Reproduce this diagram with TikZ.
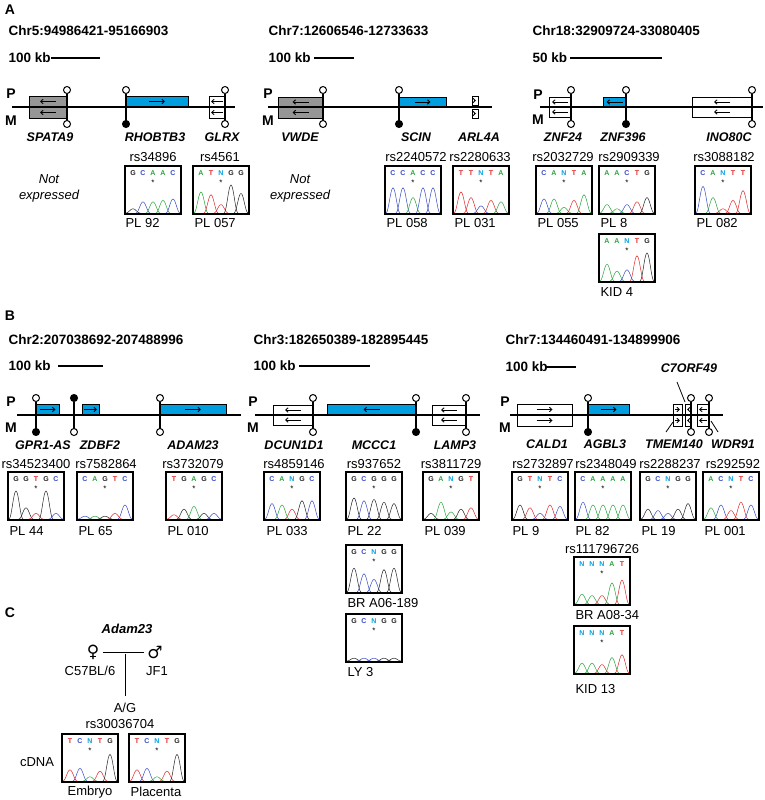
\documentclass[tikz,border=0pt]{standalone}
\usepackage{fontspec}
\setmainfont{Liberation Sans}
\newfontfamily\symfont{DejaVu Sans}
\usetikzlibrary{arrows.meta}

\definecolor{geneblue}{RGB}{0,158,222}
\definecolor{genegrey}{RGB}{150,150,150}
\definecolor{cA}{RGB}{40,165,60}
\definecolor{cC}{RGB}{55,75,200}
\definecolor{cG}{RGB}{35,35,35}
\definecolor{cT}{RGB}{225,40,40}
\definecolor{cN}{RGB}{0,160,225}

\tikzset{
  >={Straight Barb[length=2.5pt,width=4.5pt]},
  panel/.style={font=\fontsize{14}{16}\selectfont\bfseries},
  title/.style={anchor=west,font=\fontsize{13.5}{16}\selectfont\bfseries},
  gname/.style={font=\fontsize{12.5}{14}\selectfont\bfseries\itshape},
  lbl/.style={font=\fontsize{13}{15}\selectfont},
  chrline/.style={line width=2.2pt},
  gbox/.style={draw,line width=0.9pt},
  genearrow/.style={line width=0.9pt},
  stem/.style={line width=1.3pt},
  trace/.style={line width=0.5pt}
}

% half gene box: x1, x2, ytop, ybottom, fill, direction
\newcommand\halfbox[6]{%
  \draw[gbox,fill=#5] (#1,#3) rectangle (#2,#4);
  \pgfmathsetmacro\ah{min(8,(#2-#1)/2-2)}
  \draw[genearrow,#6] ({(#1+#2)/2-\ah},{(#3+#4)/2}) -- ({(#1+#2)/2+\ah},{(#3+#4)/2});
}
% lollipops: x, line y, fill
\newcommand\lolup[3]{\draw[stem] (#1,#2) -- (#1,#2-13.5); \draw[line width=1pt,fill=#3] (#1,#2-17) circle (3.5);}
\newcommand\loldown[3]{\draw[stem] (#1,#2) -- (#1,#2+13.5); \draw[line width=1pt,fill=#3] (#1,#2+17) circle (3.5);}
% chromatogram: x, y, list letter/height/peak colour
\newcommand\chrom[3]{%
  \begin{scope}[shift={(#1,#2)}]
    \foreach \l/\h/\c [count=\i] in {#3}{
      \node[text=c\l,font=\fontsize{7}{7}\selectfont\bfseries] at (\i*10-2,7) {\l};
      \draw[trace,\c] plot[domain=-7:7,samples=15,smooth] ({\i*10-2+\x},{47-\h*14*(1+cos(\x*180/7))});
    }
    \node[font=\fontsize{8}{8}\selectfont] at (28,17) {*};
    \draw[line width=1.2pt] (0,0) rectangle (56,48);
  \end{scope}}

\begin{document}
\begin{tikzpicture}[x=1pt,y=-1pt]
  \useasboundingbox[fill=white] (0,0) rectangle (765,800);

  %% ---------- A ----------
  \node[panel] at (10,10) {A};

  % Chr5
  \node[title] at (5,31) {Chr5:94986421-95166903};
  \node[title] at (5,58) {100 kb};
  \draw[line width=1.5pt] (51,58) -- (100,58);
  \node[panel] at (11,94) {P};
  \node[panel] at (11,121) {M};
  \halfbox{29}{67}{96}{107}{genegrey}{<-}
  \halfbox{29}{67}{107}{118}{genegrey}{<-}
  \halfbox{126}{188}{96}{107}{geneblue}{->}
  \halfbox{209}{225}{96}{107}{white}{<-}
  \halfbox{209}{225}{107}{118}{white}{<-}
  \draw[chrline] (12,107) -- (235,107);
  \lolup{67}{107}{white} \loldown{67}{107}{white}
  \lolup{126}{107}{white} \loldown{126}{107}{black}
  \lolup{225}{107}{white} \loldown{225}{107}{white}
  \node[gname] at (50,137) {SPATA9};
  \node[gname] at (155,137) {RHOBTB3};
  \node[gname] at (222,137) {GLRX};
  \node[lbl,align=center,font=\fontsize{13}{16}\selectfont\itshape] at (49,188) {Not\\expressed};
  \node[lbl] at (153,157) {rs34896};
  \chrom{125}{166}{G/.15/cG,C/.4/cC,A/.4/cA,A/.45/cA,C/.5/cC}
  \node[lbl,anchor=west] at (122,223) {PL 92};
  \node[lbl] at (220,157) {rs4561};
  \chrom{193}{166}{A/.75/cA,T/.65/cT,N/.3/cT,G/1/cG,G/.7/cG}
  \node[lbl,anchor=west] at (191,223) {PL 057};

  % Chr7 (A)
  \node[title] at (265,31) {Chr7:12606546-12733633};
  \node[title] at (265,58) {100 kb};
  \draw[line width=1.5pt] (314,58) -- (354,58);
  \node[panel] at (268,94) {P};
  \node[panel] at (268,121) {M};
  \halfbox{278}{323}{97}{107}{genegrey}{<-}
  \halfbox{278}{323}{107}{118}{genegrey}{<-}
  \halfbox{399}{446}{97}{107}{geneblue}{->}
  \halfbox{472}{478}{96}{105}{white}{->}
  \halfbox{472}{478}{109}{118}{white}{->}
  \draw[chrline] (268,107) -- (492,107);
  \lolup{323}{107}{white} \loldown{323}{107}{white}
  \lolup{399}{107}{white} \loldown{399}{107}{black}
  \node[gname] at (300,137) {VWDE};
  \node[gname] at (416,137) {SCIN};
  \node[gname] at (479,137) {ARL4A};
  \node[lbl,align=center,font=\fontsize{13}{16}\selectfont\itshape] at (300,188) {Not\\expressed};
  \node[lbl] at (416,157) {rs2240572};
  \chrom{385}{166}{C/.9/cC,C/.9/cC,A/.55/cA,C/.9/cC,C/.9/cC}
  \node[lbl,anchor=west] at (383,223) {PL 058};
  \node[lbl] at (480,157) {rs2280633};
  \chrom{453}{166}{T/.75/cT,T/.55/cT,N/.25/cC,T/.45/cT,A/.4/cA}
  \node[lbl,anchor=west] at (451,223) {PL 031};

  % Chr18
  \node[title] at (529,31) {Chr18:32909724-33080405};
  \node[title] at (529,58) {50 kb};
  \draw[line width=1.5pt] (570,58) -- (662,58);
  \node[panel] at (538,95) {P};
  \node[panel] at (538,120) {M};
  \halfbox{549}{571}{97}{107}{white}{<-}
  \halfbox{549}{571}{107}{117}{white}{<-}
  \halfbox{603}{626}{97}{107}{geneblue}{<-}
  \halfbox{692}{752}{97}{107}{white}{<-}
  \halfbox{692}{752}{107}{117}{white}{<-}
  \draw[chrline] (540,107) -- (763,107);
  \lolup{571}{107}{white} \loldown{571}{107}{white}
  \lolup{626}{107}{white} \loldown{626}{107}{black}
  \lolup{752}{107}{white} \loldown{752}{107}{white}
  \node[gname] at (563,137) {ZNF24};
  \node[gname] at (623,137) {ZNF396};
  \node[gname] at (729,137) {INO80C};
  \node[lbl] at (563,157) {rs2032729};
  \chrom{536}{166}{C/.5/cC,A/.5/cA,N/.2/cA,T/.45/cT,A/.65/cA}
  \node[lbl,anchor=west] at (534,223) {PL 055};
  \node[lbl] at (629,157) {rs2909339};
  \chrom{599}{166}{A/.3/cA,A/.15/cA,C/.3/cC,T/.4/cT,G/.55/cG}
  \node[lbl,anchor=west] at (597,223) {PL 8};
  \chrom{599}{234}{A/.6/cA,A/.35/cA,N/.4/cC,T/.9/cT,G/1/cG}
  \node[lbl,anchor=west] at (597,292) {KID 4};
  \node[lbl] at (724,157) {rs3088182};
  \chrom{695}{166}{C/.95/cC,A/.55/cA,N/.15/cT,T/.45/cT,T/.8/cT}
  \node[lbl,anchor=west] at (693,223) {PL 082};

  %% ---------- B ----------
  \node[panel] at (10,316) {B};

  % Chr2
  \node[title] at (5,340) {Chr2:207038692-207488996};
  \node[title] at (5,366) {100 kb};
  \draw[line width=1.5pt] (58,366) -- (103,366);
  \node[panel] at (11,402) {P};
  \node[panel] at (11,428) {M};
  \halfbox{36}{59}{404}{415}{geneblue}{->}
  \halfbox{82}{99}{404}{415}{geneblue}{->}
  \halfbox{160}{226}{404}{415}{geneblue}{->}
  \draw[chrline] (17,415) -- (241,415);
  \lolup{36}{415}{white} \loldown{36}{415}{black}
  \lolup{74}{415}{black} \loldown{74}{415}{white}
  \lolup{160}{415}{white} \loldown{160}{415}{white}
  \node[gname] at (43,445) {GPR1-AS};
  \node[gname] at (100,445) {ZDBF2};
  \node[gname] at (193,445) {ADAM23};
  \node[lbl] at (36,464) {rs34523400};
  \chrom{8}{472}{G/1/cG,G/.4/cG,T/.2/cT,G/1/cG,C/.2/cC}
  \node[lbl,anchor=west] at (6,531) {PL 44};
  \node[lbl] at (106,464) {rs7582864};
  \chrom{77}{472}{C/.1/cC,A/.1/cA,G/.1/cG,T/.2/cT,C/.5/cC}
  \node[lbl,anchor=west] at (75,531) {PL 65};
  \node[lbl] at (193,464) {rs3732079};
  \chrom{166}{472}{T/.15/cT,G/.35/cG,A/.45/cA,G/.2/cG,C/.2/cC}
  \node[lbl,anchor=west] at (164,531) {PL 010};

  % Chr3
  \node[title] at (250,340) {Chr3:182650389-182895445};
  \node[title] at (250,366) {100 kb};
  \draw[line width=1.5pt] (299,366) -- (370,366);
  \node[panel] at (253,402) {P};
  \node[panel] at (253,428) {M};
  \halfbox{273}{313}{405}{415}{white}{<-}
  \halfbox{273}{313}{415}{425}{white}{<-}
  \halfbox{327}{416}{404}{415}{geneblue}{<-}
  \halfbox{432}{466}{405}{415}{white}{<-}
  \halfbox{432}{466}{415}{425}{white}{<-}
  \draw[chrline] (255,415) -- (480,415);
  \lolup{313}{415}{white} \loldown{313}{415}{white}
  \lolup{416}{415}{white} \loldown{416}{415}{black}
  \lolup{466}{415}{white} \loldown{466}{415}{white}
  \node[gname] at (294,445) {DCUN1D1};
  \node[gname] at (374,445) {MCCC1};
  \node[gname] at (455,445) {LAMP3};
  \node[lbl] at (294,464) {rs4859146};
  \chrom{264}{472}{C/.55/cC,A/.5/cA,N/.35/cT,G/.65/cG,C/.65/cC}
  \node[lbl,anchor=west] at (263,531) {PL 033};
  \node[lbl] at (374,464) {rs937652};
  \chrom{346}{472}{G/.75/cG,C/.65/cC,G/.7/cG,G/.6/cG,G/.55/cG}
  \node[lbl,anchor=west] at (344,531) {PL 22};
  \chrom{346}{545}{G/.85/cG,C/.65/cC,N/.45/cC,G/.8/cG,G/.85/cG}
  \node[lbl,anchor=west] at (344,603) {BR A06-189};
  \chrom{346}{614}{G/.1/cG,C/.1/cC,N/.1/cC,G/.1/cG,G/.1/cG}
  \node[lbl,anchor=west] at (344,672) {LY 3};
  \node[lbl] at (451,464) {rs3811729};
  \chrom{423}{472}{G/.2/cG,A/.6/cA,N/.25/cA,G/.35/cG,T/.4/cT}
  \node[lbl,anchor=west] at (421,531) {PL 039};

  % Chr7 (B)
  \node[title] at (502,340) {Chr7:134460491-134899906};
  \node[title] at (502,367) {100 kb};
  \draw[line width=1.5pt] (545,367) -- (576,367);
  \node[gname] at (689,368) {C7ORF49};
  \node[panel] at (505,402) {P};
  \node[panel] at (505,428) {M};
  \halfbox{517}{572}{404}{415}{white}{->}
  \halfbox{517}{572}{415}{426}{white}{->}
  \halfbox{588}{629}{404}{415}{geneblue}{->}
  \halfbox{673}{682}{404}{415}{white}{->}
  \halfbox{673}{682}{415}{426}{white}{->}
  \halfbox{685}{691}{404}{415}{white}{<-}
  \halfbox{685}{691}{415}{426}{white}{<-}
  \halfbox{697}{709}{404}{415}{white}{<-}
  \halfbox{697}{709}{415}{426}{white}{<-}
  \draw[chrline] (510,415) -- (723,415);
  \lolup{588}{415}{white} \loldown{588}{415}{black}
  \lolup{691}{415}{white} \loldown{691}{415}{white}
  \lolup{709}{415}{white} \loldown{709}{415}{white}
  \draw[line width=0.8pt] (677,382) -- (685,402);
  \draw[line width=0.8pt] (666,432) -- (673,422);
  \draw[line width=0.8pt] (718,432) -- (711,421);
  \node[gname] at (547,444) {CALD1};
  \node[gname] at (605,444) {AGBL3};
  \node[gname] at (674,444) {TMEM140};
  \node[gname] at (733,444) {WDR91};
  \node[lbl] at (543,464) {rs2732897};
  \chrom{512}{472}{G/.5/cG,T/.4/cT,N/.2/cC,T/.5/cT,C/.45/cC}
  \node[lbl,anchor=west] at (509,531) {PL 9};
  \node[lbl] at (606,464) {rs2348049};
  \chrom{575}{472}{C/.6/cC,A/.5/cA,A/.5/cA,A/.5/cA,A/.5/cA}
  \node[lbl,anchor=west] at (572,531) {PL 82};
  \node[lbl] at (670,464) {rs2288237};
  \chrom{640}{472}{G/.35/cG,C/.3/cC,N/.2/cC,G/.35/cG,G/.55/cG}
  \node[lbl,anchor=west] at (638,531) {PL 19};
  \node[lbl] at (733,464) {rs292592};
  \chrom{703}{472}{A/.4/cA,C/.5/cC,N/.3/cT,T/.6/cT,C/.5/cC}
  \node[lbl,anchor=west] at (701,531) {PL 001};
  \node[lbl] at (602,549) {rs111796726};
  \chrom{574}{557}{N/.35/cA,N/.3/cA,N/.3/cT,A/.75/cA,T/.85/cT}
  \node[lbl,anchor=west] at (572,615) {BR A08-34};
  \chrom{574}{626}{N/.35/cA,N/.35/cA,N/.3/cT,A/.55/cA,T/.65/cT}
  \node[lbl,anchor=west] at (572,689) {KID 13};

  %% ---------- C ----------
  \node[panel] at (10,613) {C};
  \node[gname,font=\fontsize{13}{15}\selectfont\bfseries\itshape] at (127,629) {Adam23};
  \node[font=\fontsize{17}{17}\selectfont\symfont] (fem) at (93,652) {♀};
  \node[font=\fontsize{17}{17}\selectfont\symfont] (mal) at (155,652) {♂};
  \draw[line width=1pt] (fem.east) -- (mal.west);
  \draw[line width=1pt] (125,654) -- (125,696);
  \node[lbl] at (90,671) {C57BL/6};
  \node[lbl] at (157,671) {JF1};
  \node[lbl] at (125,708) {A/G};
  \node[lbl] at (120,724) {rs30036704};
  \node[lbl] at (37,762) {cDNA};
  \chrom{62}{734}{T/.4/cT,C/.45/cC,N/.15/cA,T/.35/cT,G/.95/cG}
  \chrom{129}{734}{T/.4/cT,C/.45/cC,N/.15/cA,T/.35/cT,G/.95/cG}
  \node[lbl] at (90,792) {Embryo};
  \node[lbl] at (156,792) {Placenta};
\end{tikzpicture}
\end{document}
